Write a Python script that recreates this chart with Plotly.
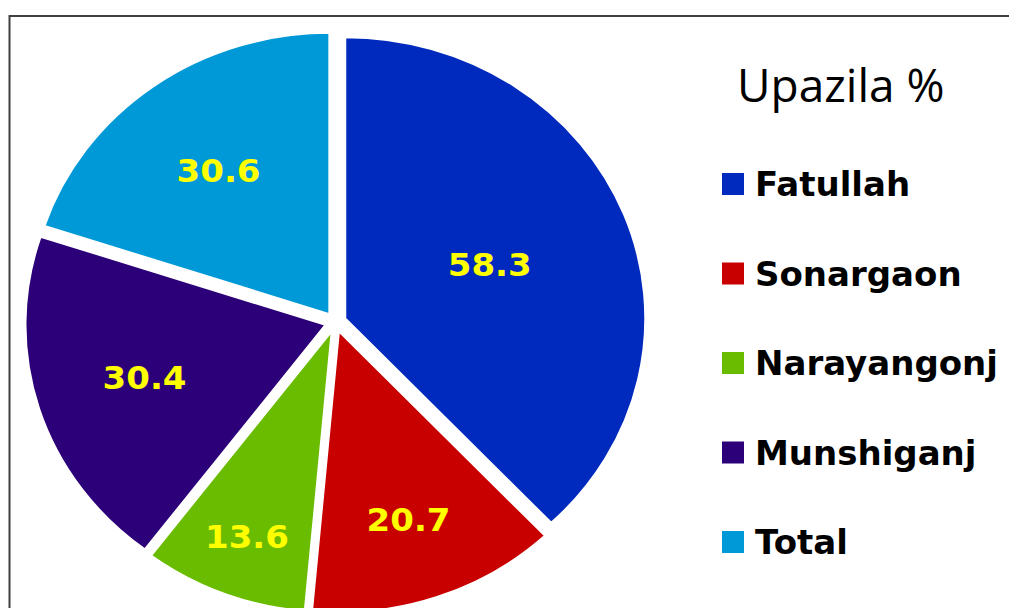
import plotly.graph_objects as go

# ---- data ----
categories = ["Fatullah", "Sonargaon", "Narayangonj", "Munshiganj", "Total"]
values = [58.3, 20.7, 13.6, 30.4, 30.6]
colors = ["#0029BD", "#C80000", "#6ABC00", "#2C0078", "#0099D8"]
legend_title = "Upazila %"

W, H = 1009, 652

# pie geometry (circle of radius 300 centred at y=340, then squeezed vertically
# to the slightly elliptical shape of the reference)
CX, CY, R, PULL = 335.5, 340.0, 300.0, 0.035
SQUEEZE = 0.937
TARGET_CY = 322.0
half = R * (1 + PULL)

fig = go.Figure()
fig.add_trace(go.Pie(
    labels=categories,
    values=values,
    sort=False,
    direction="clockwise",
    rotation=0,
    pull=PULL,
    marker=dict(colors=colors, line=dict(color="white", width=2)),
    textinfo="value",
    textposition="inside",
    insidetextorientation="horizontal",
    textfont=dict(family="DejaVu Sans", size=34, color="#FFFF00", weight="bold"),
    hoverinfo="skip",
    showlegend=False,
    domain=dict(x=[(CX - half) / W, (CX + half) / W],
                y=[(H - (CY + half)) / H, (H - (CY - half)) / H]),
))

shapes = [
    # chart frame (extends past right and bottom edges)
    dict(type="rect", xref="paper", yref="paper",
         x0=9.5 / W, x1=1.05, y0=-0.05, y1=1 - 16 / H,
         line=dict(color="#404040", width=2), fillcolor="rgba(0,0,0,0)", layer="below"),
]
annotations = [
    dict(text=legend_title, xref="paper", yref="paper", x=841 / W, y=1 - 84 / H,
         xanchor="center", yanchor="middle", showarrow=False,
         font=dict(family="Open Sans", size=46, color="#000000")),
]

item_y0 = 184
item_step = 89.5
for i, (cat, col) in enumerate(zip(categories, colors)):
    yc = item_y0 + i * item_step
    shapes.append(dict(type="rect", xref="paper", yref="paper",
                       x0=722 / W, x1=744 / W, y0=1 - (yc + 11) / H, y1=1 - (yc - 11) / H,
                       line=dict(width=0), fillcolor=col))
    annotations.append(dict(text=cat, xref="paper", yref="paper", x=753 / W, y=1 - yc / H,
                            xanchor="left", yanchor="middle", showarrow=False,
                            font=dict(family="DejaVu Sans", size=34, color="#000000", weight="bold")))

fig.update_layout(
    width=W, height=H,
    margin=dict(l=0, r=0, t=0, b=0),
    paper_bgcolor="white",
    plot_bgcolor="white",
    shapes=shapes,
    annotations=annotations,
    showlegend=False,
)

ty = TARGET_CY - SQUEEZE * CY
post = (
    "document.body.style.margin='0';"
    "document.body.style.overflow='hidden';"
    "document.documentElement.style.overflow='hidden';"
    "var gd=document.getElementById('{plot_id}');"
    "var pl=gd.querySelector('.pielayer');"
    "if(pl){pl.setAttribute('transform','translate(0,%.3f) scale(1,%.4f)');}" % (ty, SQUEEZE)
)

fig.write_html(
    "out.html",
    config={"displayModeBar": False},
    post_script=post,
)
